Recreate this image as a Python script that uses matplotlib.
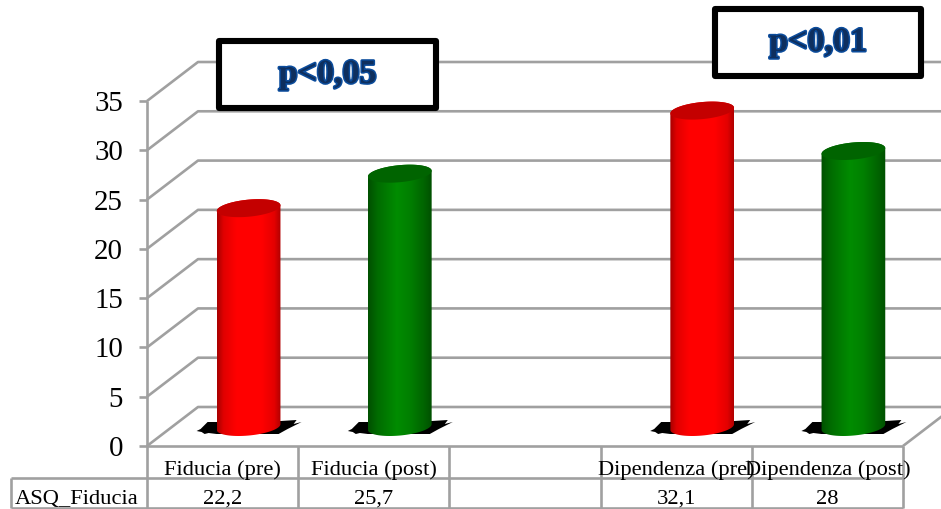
import numpy as np
import matplotlib
matplotlib.use('Agg')
import matplotlib.pyplot as plt
import matplotlib.patheffects as pe
from matplotlib.colors import LinearSegmentedColormap
from matplotlib.patches import Polygon, Rectangle

categories = ['Fiducia (pre)', 'Fiducia (post)', '', 'Dipendenza (pre)', 'Dipendenza (post)']
values = [22.2, 25.7, None, 32.1, 28]
bar_kinds = ['red', 'green', None, 'red', 'green']
row_name = 'ASQ_Fiducia'
y_ticks = [0, 5, 10, 15, 20, 25, 30, 35]

W, H = 941, 510
COL = 151.2      # px per category
UNIT = 9.857     # px per y unit
X0, Y0 = 147, 447
DX, DY = 51, 39  # depth of the 3d box
GRID = '#a0a0a0'

plt.rcParams['font.family'] = ['Liberation Serif', 'DejaVu Serif']

fig = plt.figure(figsize=(W / 100, H / 100), dpi=100)
ax = fig.add_axes([0, 0, 1, 1])
ax.set_xlim(-X0 / COL, (W - X0) / COL)
ax.set_ylim(-(H - Y0) / UNIT, Y0 / UNIT)
ax.axis('off')


def px(x):
    return (x - X0) / COL


def py(y):
    return (Y0 - y) / UNIT


ddx, ddy = DX / COL, DY / UNIT
n = len(categories)
line = dict(color=GRID, lw=1.9, solid_capstyle='butt', zorder=1)

# side wall, back wall and floor
for t in y_ticks:
    ax.plot([0, ddx, 7], [t, t + ddy, t + ddy], **line)
    ax.plot([px(139), 0], [t, t], **line)
ax.plot([n, n + ddx], [0, ddy], **line)

# table grid
ax.plot([0, 0], [35, py(510)], **line)
ax.plot([0, n], [0, 0], **line)
ax.plot([px(11), n], [py(479), py(479)], **line)
ax.plot([px(11), n], [py(509), py(509)], **line)
ax.plot([px(11), px(11)], [py(479), py(509)], **line)
for i in range(1, n + 1):
    ax.plot([i, i], [0, py(509)], **line)

cmaps = {
    'red': LinearSegmentedColormap.from_list('r', [(0, '#a80000'), (0.1, '#e00000'), (0.3, '#ff0000'),
                                                   (0.7, '#ff0000'), (0.9, '#e40000'), (1, '#b00000')]),
    'green': LinearSegmentedColormap.from_list('g', [(0, '#005000'), (0.15, '#006c00'), (0.45, '#008c00'),
                                                     (0.65, '#008000'), (0.88, '#006400'), (1, '#005000')]),
}
top_colors = {'red': '#c40000', 'green': '#006400'}

# jagged floor shadow around each cylinder, px offsets from its centre
shadow = np.array([[-52, 5], [-48, 3], [-41, -4], [-32, -4], [32, -5], [48, -6], [45, -2], [53, -4],
                   [39, 3], [30, 8], [-32, 8], [-40, 7], [-44, 8], [-47, 6]])
gradient = np.linspace(0, 1, 128).reshape(1, -1)
a, b, tilt = 32, 8.5, np.radians(5.5)
base_y = 19 / UNIT


def ellipse(xc, yc, t):
    ex = a * np.cos(t) * np.cos(tilt) - b * np.sin(t) * np.sin(tilt)
    ey = a * np.cos(t) * np.sin(tilt) + b * np.sin(t) * np.cos(tilt)
    return xc + ex / COL, yc + ey / UNIT


for i, v in enumerate(values):
    if v is None:
        continue
    xc = i + 0.5 + 26 / COL
    ax.add_patch(Polygon(np.column_stack([xc + shadow[:, 0] / COL, 20 / UNIT - shadow[:, 1] / UNIT]),
                         fc='black', ec='none', zorder=2))

    low = np.linspace(np.pi, 2 * np.pi, 40)
    up = np.linspace(0, np.pi, 40)
    bx, by = ellipse(xc, base_y, low)
    tx, ty = ellipse(xc, base_y + v, up)
    body = Polygon(np.column_stack([np.r_[bx, tx], np.r_[by, ty]]), fc='none', ec='none',
                   transform=ax.transData)
    ax.add_patch(body)
    half = a / COL
    im = ax.imshow(gradient, cmap=cmaps[bar_kinds[i]], aspect='auto', zorder=3,
                   extent=[xc - half, xc + half, base_y - 2, base_y + v + 2])
    im.set_clip_path(body)

    ex, ey = ellipse(xc, base_y + v, np.linspace(0, 2 * np.pi, 80))
    ax.add_patch(Polygon(np.column_stack([ex, ey]), fc=top_colors[bar_kinds[i]], ec='none', zorder=4))

ax.set_xlim(-X0 / COL, (W - X0) / COL)
ax.set_ylim(-(H - Y0) / UNIT, Y0 / UNIT)

# y axis labels
for t in y_ticks:
    ax.text(px(123), t - 2 / UNIT, str(t), ha='right', va='center', fontsize=20.8, color='black', zorder=5)

# table text
for i, c in enumerate(categories):
    ax.text(i + 0.5, py(475), c, ha='center', va='baseline', fontsize=16.2, color='black', zorder=6)
    if values[i] is not None:
        label = f'{values[i]:g}'.replace('.', ',')
        ax.text(i + 0.5, py(504), label, ha='center', va='baseline', fontsize=16.2, color='black', zorder=6)
ax.text(px(77), py(504), row_name, ha='center', va='baseline', fontsize=16.2, color='black', zorder=6)

# significance boxes
for label, (x1, y1, x2, y2) in [('p<0,05', (219, 42, 436, 109)), ('p<0,01', (715, 10, 921, 77))]:
    ax.add_patch(Rectangle((px(x1), py(y2)), px(x2) - px(x1), py(y1) - py(y2), fc='white', ec='black',
                           lw=4.4, joinstyle='round', zorder=7))
    ax.text((px(x1) + px(x2)) / 2, (py(y1) + py(y2)) / 2, label, ha='center', va='center', fontsize=24.5,
            fontweight='bold', color='#0e2f5e', zorder=8,
            path_effects=[pe.withStroke(linewidth=2.2, foreground='#0b4c9c')])

fig.savefig('out.png', dpi=100)
